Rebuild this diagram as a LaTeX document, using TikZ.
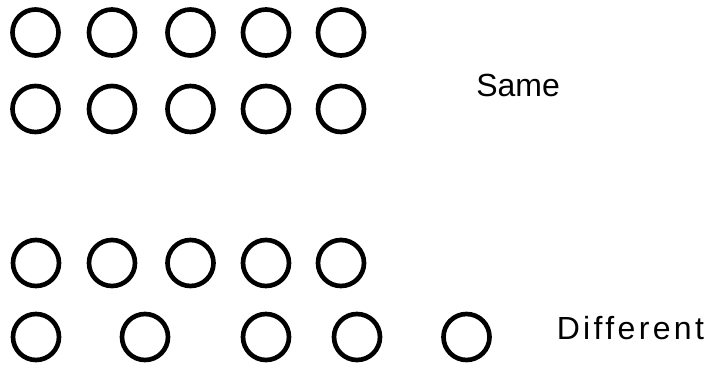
\documentclass[tikz,border=0pt]{standalone}
\usepackage{fontspec}
\setmainfont{Liberation Sans}

\begin{document}
\begin{tikzpicture}[x=0.75pt,y=-0.75pt,
  ring/.style={draw, circle, line width=3.5pt, minimum size=34.5pt, inner sep=0pt},
  word/.style={inner sep=0pt, anchor=base west, font=\fontsize{24}{29}\selectfont}]

\useasboundingbox (0,0) rectangle (720,366);

% -----------------------------
% Same: two equal rows
% -----------------------------
\foreach \x [count=\i] in {35.5,112,190.5,266,341} {
    \node[ring] (a\i) at (\x,32.5) {};   % top row
    \node[ring] (b\i) at (\x,109) {};    % second row
}
\node[word] (same) at (476,97) {Same};

% -----------------------------
% Different: second row shifted
% -----------------------------
\foreach \x [count=\i] in {36,112,190.5,266,341}
    \node[ring] (c\i) at (\x,263) {};    % regular row
\foreach \x [count=\i] in {36,145,266,357,466.5}
    \node[ring] (d\i) at (\x,337) {};    % irregular row
\node[word] (diff) at (556.5,339)
    {\addfontfeature{LetterSpace=10.5}Different};

\end{tikzpicture}
\end{document}
